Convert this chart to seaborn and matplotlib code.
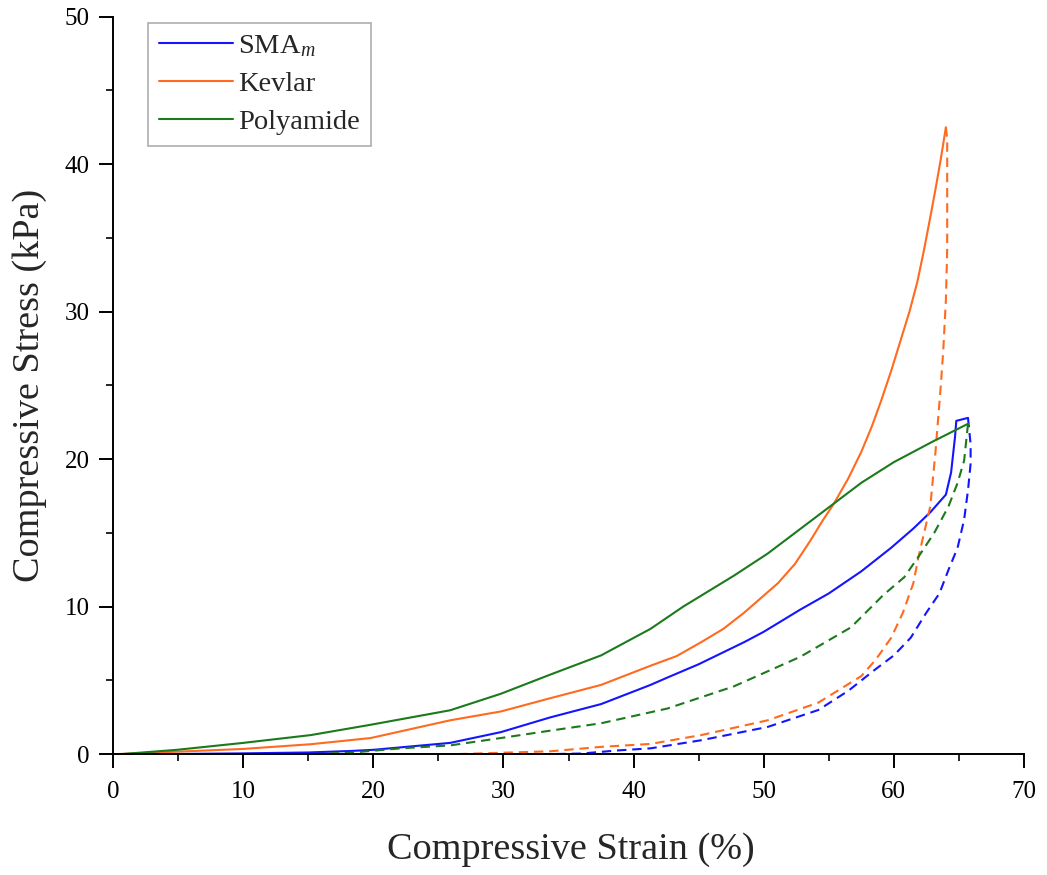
import matplotlib
matplotlib.use("Agg")
import matplotlib.pyplot as plt
from matplotlib.ticker import MultipleLocator
import seaborn as sns
import pandas as pd

# ---- data ----
sma_load_x = [0, 5, 10, 15, 18.2, 20, 25.9, 29.8, 33.6, 37.5, 41.3, 42.6, 45, 48.5, 50, 52.8,
              55, 57.5, 59.8, 61.5, 62.8, 64.0, 64.4, 64.7, 64.8, 65.7]
sma_load_y = [0, 0.02, 0.06, 0.12, 0.22, 0.3, 0.77, 1.5, 2.5, 3.4, 4.7, 5.2, 6.1, 7.6, 8.3, 9.8,
              10.9, 12.4, 14.0, 15.3, 16.4, 17.6, 19.1, 21.5, 22.6, 22.8]
sma_unload_x = [65.7, 65.9, 65.9, 65.7, 65.4, 64.9, 64.2, 63.5, 62.5, 61.3, 60.0, 58.5, 57.5,
                56.5, 54.2, 50.3, 45.2, 41.3, 38.8, 36, 33]
sma_unload_y = [22.8, 21.0, 19.7, 17.9, 15.9, 14.0, 12.5, 10.9, 9.6, 7.9, 6.7, 5.7, 5.0,
                4.3, 3.0, 1.85, 0.95, 0.4, 0.26, 0.05, 0]

kev_load_x = [0, 6.2, 10, 15.2, 19.8, 25.9, 29.8, 33.6, 37.5, 41.3, 43.3, 45.2, 46.9, 48.5,
              51.1, 52.4, 53.6, 54.5, 55.4, 56.5, 57.5, 58.3, 59.0, 59.8, 60.5, 61.2, 61.8,
              62.3, 62.8, 63.2, 63.6, 64.0]
kev_load_y = [0, 0.22, 0.36, 0.68, 1.1, 2.3, 2.9, 3.8, 4.7, 6.0, 6.65, 7.6, 8.5, 9.6,
              11.6, 12.9, 14.5, 15.8, 17.0, 18.7, 20.5, 22.2, 23.9, 26.0, 28.0, 30.0, 32.0,
              34.1, 36.4, 38.3, 40.3, 42.5]
kev_unload_x = [64.0, 64.1, 64.1, 64.1, 64.0, 63.8, 63.6, 63.2, 62.8, 61.9, 61.5, 60.7, 59.8,
                58.6, 57.5, 54.2, 50.3, 45.2, 41.3, 37.5, 33.6, 29.8, 26]
kev_unload_y = [42.5, 41.7, 37.6, 34.2, 30.8, 27.4, 24.9, 20.5, 16.8, 13.4, 11.6, 9.6, 7.9,
                6.4, 5.3, 3.5, 2.3, 1.3, 0.7, 0.5, 0.2, 0.1, 0]

pa_load_x = [0.5, 4.9, 10, 15.2, 19.8, 25.9, 29.8, 33.6, 37.5, 41.3, 43.8, 47.7, 50.3, 55.4,
             57.5, 60, 63, 65.7]
pa_load_y = [0, 0.3, 0.77, 1.3, 2.0, 2.98, 4.1, 5.4, 6.7, 8.5, 10.0, 12.1, 13.6, 17.0,
             18.4, 19.8, 21.2, 22.4]
pa_unload_x = [65.7, 65.4, 64.9, 64.2, 63.1, 61.9, 60.8, 59.2, 57.5, 56.7, 52.8, 47.7, 42.6,
               37.5, 33.6, 29.8, 25.9, 22.1, 18.2, 15]
pa_unload_y = [22.4, 19.9, 18.4, 16.8, 15.0, 13.4, 12.0, 10.8, 9.3, 8.6, 6.6, 4.6, 3.1,
               2.1, 1.6, 1.1, 0.6, 0.4, 0.1, 0]

series = ["SMA$_{m}$", "Kevlar", "Polyamide"]
colors = ["#1414FF", "#FF6A1F", "#1B7A1B"]
x_ticks = [0, 10, 20, 30, 40, 50, 60, 70]
y_ticks = [0, 10, 20, 30, 40, 50]

sns.set_style("white")
plt.rcParams["font.family"] = ["Liberation Serif", "DejaVu Serif"]
plt.rcParams["mathtext.fontset"] = "custom"
plt.rcParams["mathtext.rm"] = "Liberation Serif"
plt.rcParams["mathtext.it"] = "Liberation Serif:italic"

fig = plt.figure(figsize=(10.47, 8.75), dpi=100)
ax = fig.add_axes([0.108, 0.138, 0.870, 0.843])

loads = [(sma_load_x, sma_load_y), (kev_load_x, kev_load_y), (pa_load_x, pa_load_y)]
unloads = [(sma_unload_x, sma_unload_y), (kev_unload_x, kev_unload_y), (pa_unload_x, pa_unload_y)]

for name, col, (lx, ly), (ux, uy) in zip(series, colors, loads, unloads):
    dfl = pd.DataFrame({"x": lx, "y": ly})
    dfu = pd.DataFrame({"x": ux, "y": uy})
    sns.lineplot(data=dfl, x="x", y="y", ax=ax, color=col, lw=1.5, sort=False,
                 estimator=None, label=name)
    sns.lineplot(data=dfu, x="x", y="y", ax=ax, color=col, lw=1.5, sort=False,
                 estimator=None, dashes=False, linestyle=(0, (4.5, 2.8)))

ax.set_xlim(0, 70)
ax.set_ylim(0, 50)
ax.set_xticks(x_ticks)
ax.set_yticks(y_ticks)
ax.xaxis.set_minor_locator(MultipleLocator(5))
ax.yaxis.set_minor_locator(MultipleLocator(5))
ax.tick_params(which="major", direction="out", length=10, width=1.4, labelsize=18,
               bottom=True, left=True, colors="black")
ax.tick_params(which="minor", direction="out", length=5, width=1.4, bottom=True, left=True)
ax.tick_params(axis="x", which="major", pad=9)
ax.tick_params(axis="y", which="major", pad=7)

for s in ["top", "right"]:
    ax.spines[s].set_visible(False)
for s in ["left", "bottom"]:
    ax.spines[s].set_linewidth(1.4)
    ax.spines[s].set_color("black")

ax.set_xlabel("Compressive Strain (%)", fontsize=27.5)
ax.set_ylabel("Compressive Stress (kPa)", fontsize=27.5)
ax.xaxis.set_label_coords(0.502, -0.106)
ax.yaxis.set_label_coords(-0.0725, 0.5)

leg = ax.legend(loc="upper left", bbox_to_anchor=(0.038, 0.992), fontsize=20.5,
                frameon=True, fancybox=False, edgecolor="#999999", handlelength=2.6,
                handletextpad=0.2, labelspacing=0.42, borderpad=0.38, borderaxespad=0)
leg.get_frame().set_linewidth(1.2)

fig.savefig("out.png", dpi=100)
